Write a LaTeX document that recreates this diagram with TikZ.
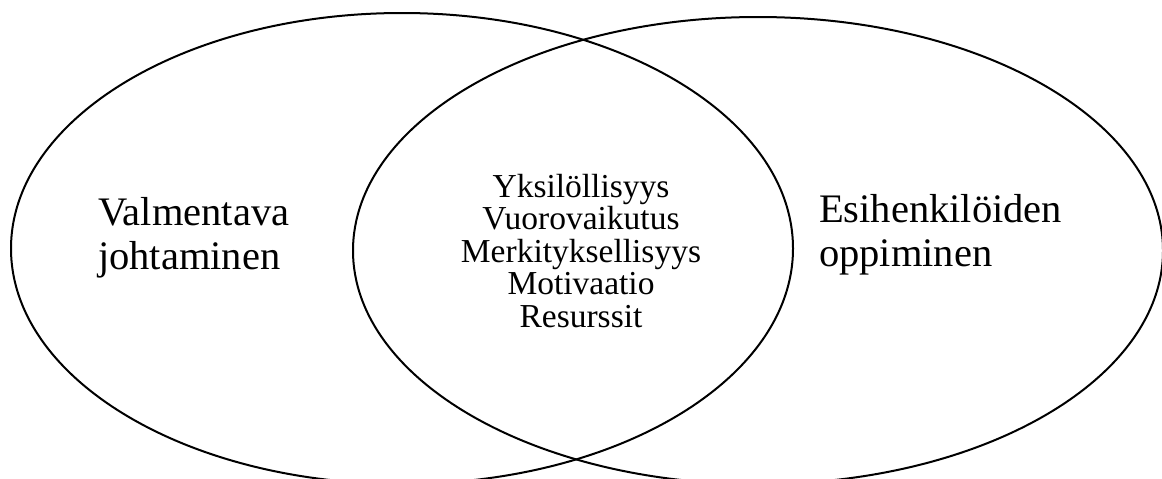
\documentclass[tikz,border=0pt]{standalone}
\usepackage{fontspec}
\setmainfont{Liberation Serif}
\tikzset{
  venn/.style={draw=black, line width=2pt},
  sidetext/.style={inner sep=0pt, align=left, font=\fontsize{40.5}{43.5}\selectfont},
  midtext/.style={inner sep=0pt, align=center, font=\fontsize{33.5}{32.5}\selectfont}
}
\begin{document}
\begin{tikzpicture}[x=1pt,y=-1pt]
\useasboundingbox (0,0) rectangle (1162,479);
\begin{scope}
\clip (0,0) rectangle (1162,479);
\draw[venn] (402,248.5) ellipse [x radius=391, y radius=235.5];
\draw[venn] (758,250.6) ellipse [x radius=405, y radius=233.6];
\end{scope}
\node[sidetext, anchor=west] (left) at (98,238) {Valmentava\\johtaminen};
\node[sidetext, anchor=west] (right) at (819,235) {Esihenkilöiden\\oppiminen};
\node[midtext] (mid) at (581,251) {Yksilöllisyys\\Vuorovaikutus\\Merkityksellisyys\\Motivaatio\\Resurssit};
\end{tikzpicture}
\end{document}
